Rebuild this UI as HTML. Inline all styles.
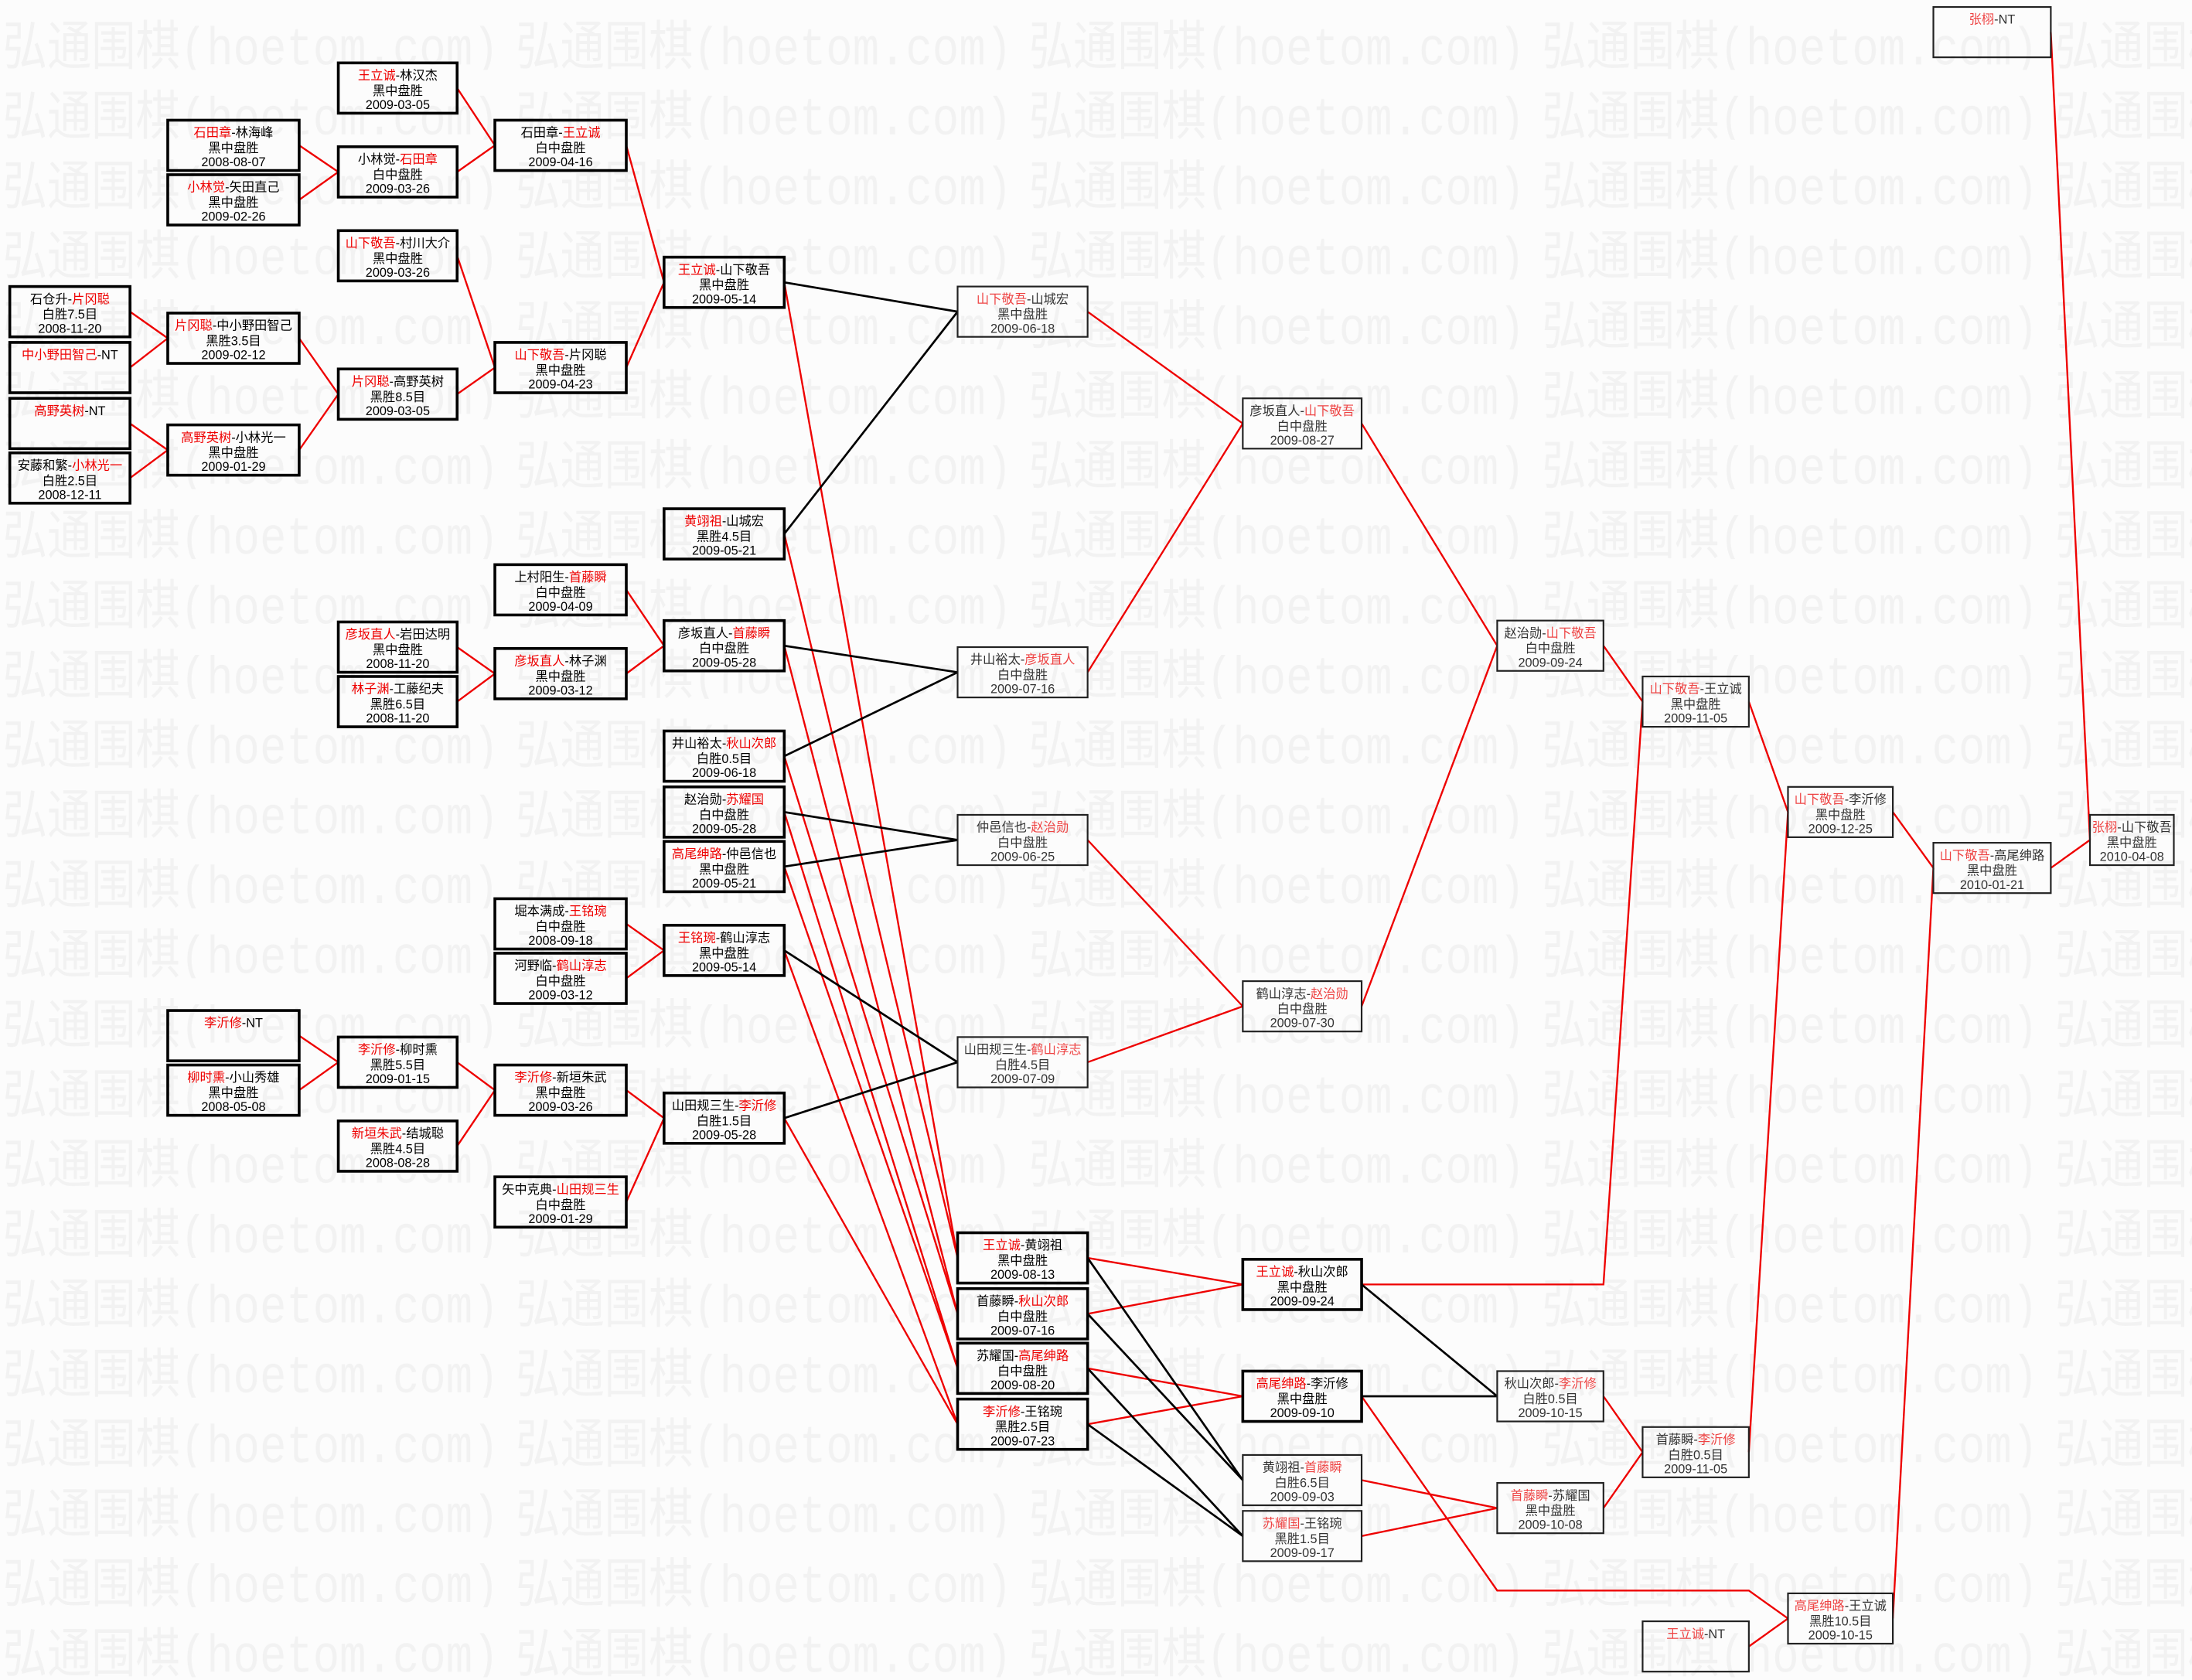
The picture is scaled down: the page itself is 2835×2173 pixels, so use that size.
<!DOCTYPE html>
<html><head><meta charset="utf-8">
<style>
html,body{margin:0;padding:0;background:#fcfcfc;}
svg{display:block;}
text{font-family:"Liberation Sans","Noto Sans CJK SC",sans-serif;}
.w text{font-size:38px;fill:#f2f2f2;font-family:"Liberation Mono","Noto Sans CJK SC",monospace;}
.n text{font-size:9px;text-anchor:middle;fill:#000;}
.m text{font-size:9px;text-anchor:middle;fill:#333;}
.n rect{fill:none;stroke:#000;stroke-width:2;}
.m rect{fill:none;stroke:#222;stroke-width:1.2;}
.r{fill:#e00 !important;}
.m .r{fill:#e44 !important;}
.lr{stroke:#e00;stroke-width:1.3;fill:none;}
.lb{stroke:#000;stroke-width:1.5;fill:none;}
</style></head>
<body>
<svg width="2835" height="2173" viewBox="0 0 1568 1202" preserveAspectRatio="none" xmlns="http://www.w3.org/2000/svg">
<defs>
<pattern id="wm" x="0" y="0" width="367" height="50" patternUnits="userSpaceOnUse">
<g class="w"><text x="2" y="46" textLength="355" lengthAdjust="spacingAndGlyphs">弘通围棋(hoetom.com)</text></g>
</pattern>
</defs>
<rect x="0" y="0" width="1568" height="1202" fill="#fcfcfc"/>
<rect x="0" y="0" width="1568" height="1202" fill="url(#wm)"/>

<!-- connectors -->
<g class="lr">
<line x1="93" y1="223" x2="120" y2="242"/><line x1="93" y1="263" x2="120" y2="242"/>
<line x1="93" y1="303" x2="120" y2="322"/><line x1="93" y1="342" x2="120" y2="322"/>
<line x1="214" y1="104" x2="242" y2="123"/><line x1="214" y1="143" x2="242" y2="123"/>
<line x1="214" y1="242" x2="242" y2="282"/><line x1="214" y1="322" x2="242" y2="282"/>
<line x1="214" y1="741" x2="242" y2="760"/><line x1="214" y1="780" x2="242" y2="760"/>
<line x1="327" y1="63" x2="354" y2="104"/><line x1="327" y1="123" x2="354" y2="104"/>
<line x1="327" y1="183" x2="354" y2="263"/><line x1="327" y1="282" x2="354" y2="263"/>
<line x1="327" y1="463" x2="354" y2="482"/><line x1="327" y1="502" x2="354" y2="482"/>
<line x1="327" y1="760" x2="354" y2="780"/><line x1="327" y1="820" x2="354" y2="780"/>
<line x1="448" y1="104" x2="475" y2="202"/><line x1="448" y1="263" x2="475" y2="202"/>
<line x1="448" y1="422" x2="475" y2="462"/><line x1="448" y1="482" x2="475" y2="462"/>
<line x1="448" y1="661" x2="475" y2="680"/><line x1="448" y1="700" x2="475" y2="680"/>
<line x1="448" y1="780" x2="475" y2="800"/><line x1="448" y1="860" x2="475" y2="800"/>
<line x1="561" y1="202" x2="685" y2="900"/><line x1="561" y1="382" x2="685" y2="900"/>
<line x1="561" y1="462" x2="685" y2="940"/><line x1="561" y1="541" x2="685" y2="940"/>
<line x1="561" y1="581" x2="685" y2="979"/><line x1="561" y1="620" x2="685" y2="979"/>
<line x1="561" y1="680" x2="685" y2="1019"/><line x1="561" y1="800" x2="685" y2="1019"/>
<line x1="778" y1="223" x2="889" y2="303"/><line x1="778" y1="481" x2="889" y2="303"/>
<line x1="778" y1="601" x2="889" y2="720"/><line x1="778" y1="760" x2="889" y2="720"/>
<line x1="778" y1="900" x2="889" y2="919"/><line x1="778" y1="940" x2="889" y2="919"/>
<line x1="778" y1="979" x2="889" y2="999"/><line x1="778" y1="1019" x2="889" y2="999"/>
<line x1="974" y1="303" x2="1071" y2="462"/><line x1="974" y1="720" x2="1071" y2="462"/>
<line x1="1147" y1="462" x2="1175" y2="502"/>
<polyline points="974,919 1147,919 1175,502"/>
<polyline points="974,999 1071,1138 1251,1138 1279,1158"/>
<line x1="974" y1="1059" x2="1071" y2="1079"/><line x1="974" y1="1099" x2="1071" y2="1079"/>
<line x1="1147" y1="999" x2="1175" y2="1039"/><line x1="1147" y1="1079" x2="1175" y2="1039"/>
<line x1="1251" y1="502" x2="1279" y2="581"/><line x1="1251" y1="1039" x2="1279" y2="581"/>
<line x1="1251" y1="1178" x2="1279" y2="1158"/>
<line x1="1354" y1="581" x2="1383" y2="621"/><line x1="1354" y1="1158" x2="1383" y2="621"/>
<line x1="1467" y1="23" x2="1495" y2="601"/><line x1="1467" y1="621" x2="1495" y2="601"/>
</g>
<g class="lb">
<line x1="561" y1="202" x2="685" y2="223"/><line x1="561" y1="382" x2="685" y2="223"/>
<line x1="561" y1="462" x2="685" y2="481"/><line x1="561" y1="541" x2="685" y2="481"/>
<line x1="561" y1="581" x2="685" y2="601"/><line x1="561" y1="620" x2="685" y2="601"/>
<line x1="561" y1="680" x2="685" y2="760"/><line x1="561" y1="800" x2="685" y2="760"/>
<line x1="778" y1="900" x2="889" y2="1059"/><line x1="778" y1="940" x2="889" y2="1059"/>
<line x1="778" y1="979" x2="889" y2="1099"/><line x1="778" y1="1019" x2="889" y2="1099"/>
<line x1="974" y1="919" x2="1071" y2="999"/><line x1="974" y1="999" x2="1071" y2="999"/>
</g>

<!-- Column A -->
<g class="n"><rect x="7" y="205" width="86" height="36"/><text x="50" y="217">石仓升-<tspan class="r">片冈聪</tspan></text><text x="50" y="228">白胜7.5目</text><text x="50" y="238">2008-11-20</text></g>
<g class="n"><rect x="7" y="245" width="86" height="36"/><text x="50" y="257"><tspan class="r">中小野田智己</tspan>-NT</text></g>
<g class="n"><rect x="7" y="285" width="86" height="36"/><text x="50" y="297"><tspan class="r">高野英树</tspan>-NT</text></g>
<g class="n"><rect x="7" y="324" width="86" height="36"/><text x="50" y="336">安藤和繁-<tspan class="r">小林光一</tspan></text><text x="50" y="347">白胜2.5目</text><text x="50" y="357">2008-12-11</text></g>
<!-- Column B -->
<g class="n"><rect x="120" y="86" width="94" height="36"/><text x="167" y="98"><tspan class="r">石田章</tspan>-林海峰</text><text x="167" y="109">黑中盘胜</text><text x="167" y="119">2008-08-07</text></g>
<g class="n"><rect x="120" y="125" width="94" height="36"/><text x="167" y="137"><tspan class="r">小林觉</tspan>-矢田直己</text><text x="167" y="148">黑中盘胜</text><text x="167" y="158">2009-02-26</text></g>
<g class="n"><rect x="120" y="224" width="94" height="36"/><text x="167" y="236"><tspan class="r">片冈聪</tspan>-中小野田智己</text><text x="167" y="247">黑胜3.5目</text><text x="167" y="257">2009-02-12</text></g>
<g class="n"><rect x="120" y="304" width="94" height="36"/><text x="167" y="316"><tspan class="r">高野英树</tspan>-小林光一</text><text x="167" y="327">黑中盘胜</text><text x="167" y="337">2009-01-29</text></g>
<g class="n"><rect x="120" y="723" width="94" height="36"/><text x="167" y="735"><tspan class="r">李沂修</tspan>-NT</text></g>
<g class="n"><rect x="120" y="762" width="94" height="36"/><text x="167" y="774"><tspan class="r">柳时熏</tspan>-小山秀雄</text><text x="167" y="785">黑中盘胜</text><text x="167" y="795">2008-05-08</text></g>
<!-- Column C -->
<g class="n"><rect x="242" y="45" width="85" height="36"/><text x="284.5" y="57"><tspan class="r">王立诚</tspan>-林汉杰</text><text x="284.5" y="68">黑中盘胜</text><text x="284.5" y="78">2009-03-05</text></g>
<g class="n"><rect x="242" y="105" width="85" height="36"/><text x="284.5" y="117">小林觉-<tspan class="r">石田章</tspan></text><text x="284.5" y="128">白中盘胜</text><text x="284.5" y="138">2009-03-26</text></g>
<g class="n"><rect x="242" y="165" width="85" height="36"/><text x="284.5" y="177"><tspan class="r">山下敬吾</tspan>-村川大介</text><text x="284.5" y="188">黑中盘胜</text><text x="284.5" y="198">2009-03-26</text></g>
<g class="n"><rect x="242" y="264" width="85" height="36"/><text x="284.5" y="276"><tspan class="r">片冈聪</tspan>-高野英树</text><text x="284.5" y="287">黑胜8.5目</text><text x="284.5" y="297">2009-03-05</text></g>
<g class="n"><rect x="242" y="445" width="85" height="36"/><text x="284.5" y="457"><tspan class="r">彦坂直人</tspan>-岩田达明</text><text x="284.5" y="468">黑中盘胜</text><text x="284.5" y="478">2008-11-20</text></g>
<g class="n"><rect x="242" y="484" width="85" height="36"/><text x="284.5" y="496"><tspan class="r">林子渊</tspan>-工藤纪夫</text><text x="284.5" y="507">黑胜6.5目</text><text x="284.5" y="517">2008-11-20</text></g>
<g class="n"><rect x="242" y="742" width="85" height="36"/><text x="284.5" y="754"><tspan class="r">李沂修</tspan>-柳时熏</text><text x="284.5" y="765">黑胜5.5目</text><text x="284.5" y="775">2009-01-15</text></g>
<g class="n"><rect x="242" y="802" width="85" height="36"/><text x="284.5" y="814"><tspan class="r">新垣朱武</tspan>-结城聪</text><text x="284.5" y="825">黑胜4.5目</text><text x="284.5" y="835">2008-08-28</text></g>
<!-- Column D -->
<g class="n"><rect x="354" y="86" width="94" height="36"/><text x="401" y="98">石田章-<tspan class="r">王立诚</tspan></text><text x="401" y="109">白中盘胜</text><text x="401" y="119">2009-04-16</text></g>
<g class="n"><rect x="354" y="245" width="94" height="36"/><text x="401" y="257"><tspan class="r">山下敬吾</tspan>-片冈聪</text><text x="401" y="268">黑中盘胜</text><text x="401" y="278">2009-04-23</text></g>
<g class="n"><rect x="354" y="404" width="94" height="36"/><text x="401" y="416">上村阳生-<tspan class="r">首藤瞬</tspan></text><text x="401" y="427">白中盘胜</text><text x="401" y="437">2009-04-09</text></g>
<g class="n"><rect x="354" y="464" width="94" height="36"/><text x="401" y="476"><tspan class="r">彦坂直人</tspan>-林子渊</text><text x="401" y="487">黑中盘胜</text><text x="401" y="497">2009-03-12</text></g>
<g class="n"><rect x="354" y="643" width="94" height="36"/><text x="401" y="655">堀本满成-<tspan class="r">王铭琬</tspan></text><text x="401" y="666">白中盘胜</text><text x="401" y="676">2008-09-18</text></g>
<g class="n"><rect x="354" y="682" width="94" height="36"/><text x="401" y="694">河野临-<tspan class="r">鹤山淳志</tspan></text><text x="401" y="705">白中盘胜</text><text x="401" y="715">2009-03-12</text></g>
<g class="n"><rect x="354" y="762" width="94" height="36"/><text x="401" y="774"><tspan class="r">李沂修</tspan>-新垣朱武</text><text x="401" y="785">黑中盘胜</text><text x="401" y="795">2009-03-26</text></g>
<g class="n"><rect x="354" y="842" width="94" height="36"/><text x="401" y="854">矢中克典-<tspan class="r">山田规三生</tspan></text><text x="401" y="865">白中盘胜</text><text x="401" y="875">2009-01-29</text></g>
<!-- Column E -->
<g class="n"><rect x="475" y="184" width="86" height="36"/><text x="518" y="196"><tspan class="r">王立诚</tspan>-山下敬吾</text><text x="518" y="207">黑中盘胜</text><text x="518" y="217">2009-05-14</text></g>
<g class="n"><rect x="475" y="364" width="86" height="36"/><text x="518" y="376"><tspan class="r">黄翊祖</tspan>-山城宏</text><text x="518" y="387">黑胜4.5目</text><text x="518" y="397">2009-05-21</text></g>
<g class="n"><rect x="475" y="444" width="86" height="36"/><text x="518" y="456">彦坂直人-<tspan class="r">首藤瞬</tspan></text><text x="518" y="467">白中盘胜</text><text x="518" y="477">2009-05-28</text></g>
<g class="n"><rect x="475" y="523" width="86" height="36"/><text x="518" y="535">井山裕太-<tspan class="r">秋山次郎</tspan></text><text x="518" y="546">白胜0.5目</text><text x="518" y="556">2009-06-18</text></g>
<g class="n"><rect x="475" y="563" width="86" height="36"/><text x="518" y="575">赵治勋-<tspan class="r">苏耀国</tspan></text><text x="518" y="586">白中盘胜</text><text x="518" y="596">2009-05-28</text></g>
<g class="n"><rect x="475" y="602" width="86" height="36"/><text x="518" y="614"><tspan class="r">高尾绅路</tspan>-仲邑信也</text><text x="518" y="625">黑中盘胜</text><text x="518" y="635">2009-05-21</text></g>
<g class="n"><rect x="475" y="662" width="86" height="36"/><text x="518" y="674"><tspan class="r">王铭琬</tspan>-鹤山淳志</text><text x="518" y="685">黑中盘胜</text><text x="518" y="695">2009-05-14</text></g>
<g class="n"><rect x="475" y="782" width="86" height="36"/><text x="518" y="794">山田规三生-<tspan class="r">李沂修</tspan></text><text x="518" y="805">白胜1.5目</text><text x="518" y="815">2009-05-28</text></g>
<!-- Column F -->
<g class="m"><rect x="685" y="205" width="93" height="36"/><text x="731.5" y="217"><tspan class="r">山下敬吾</tspan>-山城宏</text><text x="731.5" y="228">黑中盘胜</text><text x="731.5" y="238">2009-06-18</text></g>
<g class="m"><rect x="685" y="463" width="93" height="36"/><text x="731.5" y="475">井山裕太-<tspan class="r">彦坂直人</tspan></text><text x="731.5" y="486">白中盘胜</text><text x="731.5" y="496">2009-07-16</text></g>
<g class="m"><rect x="685" y="583" width="93" height="36"/><text x="731.5" y="595">仲邑信也-<tspan class="r">赵治勋</tspan></text><text x="731.5" y="606">白中盘胜</text><text x="731.5" y="616">2009-06-25</text></g>
<g class="m"><rect x="685" y="742" width="93" height="36"/><text x="731.5" y="754">山田规三生-<tspan class="r">鹤山淳志</tspan></text><text x="731.5" y="765">白胜4.5目</text><text x="731.5" y="775">2009-07-09</text></g>
<g class="n"><rect x="685" y="882" width="93" height="36"/><text x="731.5" y="894"><tspan class="r">王立诚</tspan>-黄翊祖</text><text x="731.5" y="905">黑中盘胜</text><text x="731.5" y="915">2009-08-13</text></g>
<g class="n"><rect x="685" y="922" width="93" height="36"/><text x="731.5" y="934">首藤瞬-<tspan class="r">秋山次郎</tspan></text><text x="731.5" y="945">白中盘胜</text><text x="731.5" y="955">2009-07-16</text></g>
<g class="n"><rect x="685" y="961" width="93" height="36"/><text x="731.5" y="973">苏耀国-<tspan class="r">高尾绅路</tspan></text><text x="731.5" y="984">白中盘胜</text><text x="731.5" y="994">2009-08-20</text></g>
<g class="n"><rect x="685" y="1001" width="93" height="36"/><text x="731.5" y="1013"><tspan class="r">李沂修</tspan>-王铭琬</text><text x="731.5" y="1024">黑胜2.5目</text><text x="731.5" y="1034">2009-07-23</text></g>
<!-- Column G -->
<g class="m"><rect x="889" y="285" width="85" height="36"/><text x="931.5" y="297">彦坂直人-<tspan class="r">山下敬吾</tspan></text><text x="931.5" y="308">白中盘胜</text><text x="931.5" y="318">2009-08-27</text></g>
<g class="m"><rect x="889" y="702" width="85" height="36"/><text x="931.5" y="714">鹤山淳志-<tspan class="r">赵治勋</tspan></text><text x="931.5" y="725">白中盘胜</text><text x="931.5" y="735">2009-07-30</text></g>
<g class="n"><rect x="889" y="901" width="85" height="36"/><text x="931.5" y="913"><tspan class="r">王立诚</tspan>-秋山次郎</text><text x="931.5" y="924">黑中盘胜</text><text x="931.5" y="934">2009-09-24</text></g>
<g class="n"><rect x="889" y="981" width="85" height="36"/><text x="931.5" y="993"><tspan class="r">高尾绅路</tspan>-李沂修</text><text x="931.5" y="1004">黑中盘胜</text><text x="931.5" y="1014">2009-09-10</text></g>
<g class="m"><rect x="889" y="1041" width="85" height="36"/><text x="931.5" y="1053">黄翊祖-<tspan class="r">首藤瞬</tspan></text><text x="931.5" y="1064">白胜6.5目</text><text x="931.5" y="1074">2009-09-03</text></g>
<g class="m"><rect x="889" y="1081" width="85" height="36"/><text x="931.5" y="1093"><tspan class="r">苏耀国</tspan>-王铭琬</text><text x="931.5" y="1104">黑胜1.5目</text><text x="931.5" y="1114">2009-09-17</text></g>
<!-- Column H -->
<g class="m"><rect x="1071" y="444" width="76" height="36"/><text x="1109" y="456">赵治勋-<tspan class="r">山下敬吾</tspan></text><text x="1109" y="467">白中盘胜</text><text x="1109" y="477">2009-09-24</text></g>
<g class="m"><rect x="1071" y="981" width="76" height="36"/><text x="1109" y="993">秋山次郎-<tspan class="r">李沂修</tspan></text><text x="1109" y="1004">白胜0.5目</text><text x="1109" y="1014">2009-10-15</text></g>
<g class="m"><rect x="1071" y="1061" width="76" height="36"/><text x="1109" y="1073"><tspan class="r">首藤瞬</tspan>-苏耀国</text><text x="1109" y="1084">黑中盘胜</text><text x="1109" y="1094">2009-10-08</text></g>
<!-- Column I -->
<g class="m"><rect x="1175" y="484" width="76" height="36"/><text x="1213" y="496"><tspan class="r">山下敬吾</tspan>-王立诚</text><text x="1213" y="507">黑中盘胜</text><text x="1213" y="517">2009-11-05</text></g>
<g class="m"><rect x="1175" y="1021" width="76" height="36"/><text x="1213" y="1033">首藤瞬-<tspan class="r">李沂修</tspan></text><text x="1213" y="1044">白胜0.5目</text><text x="1213" y="1054">2009-11-05</text></g>
<g class="m"><rect x="1175" y="1160" width="76" height="36"/><text x="1213" y="1172"><tspan class="r">王立诚</tspan>-NT</text></g>
<!-- Column J -->
<g class="m"><rect x="1279" y="563" width="75" height="36"/><text x="1316.5" y="575"><tspan class="r">山下敬吾</tspan>-李沂修</text><text x="1316.5" y="586">黑中盘胜</text><text x="1316.5" y="596">2009-12-25</text></g>
<g class="m"><rect x="1279" y="1140" width="75" height="36"/><text x="1316.5" y="1152"><tspan class="r">高尾绅路</tspan>-王立诚</text><text x="1316.5" y="1163">黑胜10.5目</text><text x="1316.5" y="1173">2009-10-15</text></g>
<!-- Column K -->
<g class="m"><rect x="1383" y="5" width="84" height="36"/><text x="1425" y="17"><tspan class="r">张栩</tspan>-NT</text></g>
<g class="m"><rect x="1383" y="603" width="84" height="36"/><text x="1425" y="615"><tspan class="r">山下敬吾</tspan>-高尾绅路</text><text x="1425" y="626">黑中盘胜</text><text x="1425" y="636">2010-01-21</text></g>
<!-- Column L -->
<g class="m"><rect x="1495" y="583" width="60" height="36"/><text x="1525" y="595"><tspan class="r">张栩</tspan>-山下敬吾</text><text x="1525" y="606">黑中盘胜</text><text x="1525" y="616">2010-04-08</text></g>
</svg>
</body></html>
